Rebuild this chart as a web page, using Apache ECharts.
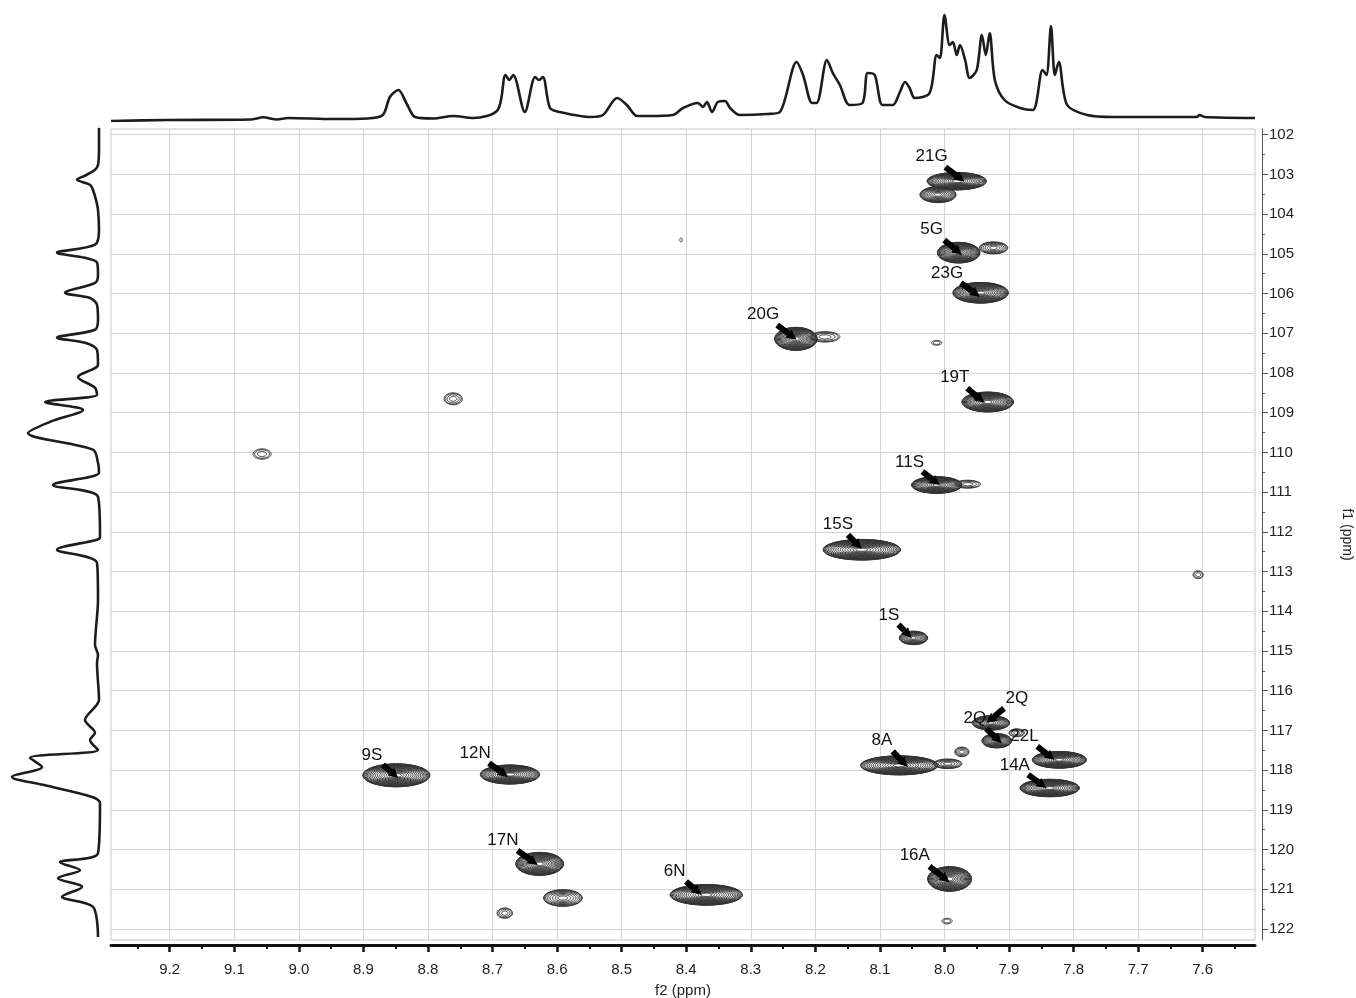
<!DOCTYPE html>
<html>
<head>
<meta charset="utf-8">
<script src="https://cdn.jsdelivr.net/npm/echarts@6/dist/echarts.min.js"></script>
<style>
html, body { margin: 0; padding: 0; background: #fff; }
#main { width: 1356px; height: 998px; }
</style>
</head>
<body>
<div id="main"></div>
<script>
// axis ranges (ppm)
var f2Min = 7.519, f2Max = 9.291;
var f1Min = 101.856, f1Max = 122.277;

// tick labels
var f2Ticks = [9.2, 9.1, 9.0, 8.9, 8.8, 8.7, 8.6, 8.5, 8.4, 8.3, 8.2, 8.1, 8.0, 7.9, 7.8, 7.7, 7.6];
var f1Ticks = [102, 103, 104, 105, 106, 107, 108, 109, 110, 111, 112, 113, 114, 115, 116, 117, 118, 119, 120, 121, 122];

// 1H projection (top trace)
var topF2 = [9.291, 9.204, 9.075, 9.055, 9.034, 9.017, 8.947, 8.894, 8.870, 8.859, 8.846, 8.832, 8.820, 8.792, 8.761, 8.730,
  8.692, 8.680, 8.674, 8.668, 8.650, 8.634, 8.628, 8.622, 8.611, 8.596, 8.549, 8.529, 8.507, 8.492, 8.476, 8.456,
  8.421, 8.405, 8.382, 8.374, 8.368, 8.360, 8.351, 8.340, 8.332, 8.317, 8.275, 8.255, 8.229, 8.219, 8.205, 8.198,
  8.182, 8.173, 8.162, 8.147, 8.127, 8.119, 8.108, 8.096, 8.080, 8.069, 8.061, 8.054, 8.046, 8.023, 8.012, 8.007,
  8.000, 7.992, 7.987, 7.981, 7.976, 7.968, 7.961, 7.950, 7.942, 7.936, 7.930, 7.922, 7.907, 7.883, 7.863, 7.848,
  7.842, 7.835, 7.829, 7.823, 7.810, 7.779, 7.739, 7.609, 7.605, 7.597, 7.519];
var topI = [0, 1, 1.5, 3.7, 1.5, 3, 2, 2.5, 6, 24, 31, 16, 4, 2.5, 5, 3,
  11, 46, 41, 46, 9, 44, 41, 44, 13, 9, 4, 6, 23, 16, 5, 5,
  6, 13, 18, 14, 19, 9, 19, 20, 13, 6, 7, 9, 59, 46, 18, 18,
  61, 48, 36, 16, 18, 48, 46, 16, 16, 29, 39, 33, 23, 28, 66, 63,
  106, 76, 79, 66, 76, 61, 43, 51, 86, 66, 88, 41, 21, 13, 11, 51,
  46, 95, 46, 59, 16, 6, 4, 4, 6, 4, 3];

// 15N projection (left trace)
var leftF1 = [101.82, 102.38, 102.76, 102.88, 103.03, 103.13, 103.26, 103.39, 103.64, 103.89, 104.39, 104.77, 104.97,
  105.10, 105.22, 105.53, 105.73, 105.98, 106.11, 106.28, 106.66, 106.91, 107.11, 107.24, 107.42, 107.79, 108.10,
  108.37, 108.55, 108.73, 108.93, 109.23, 109.51, 109.93, 110.26, 110.51, 110.82, 111.12, 112.13, 112.20, 112.45,
  112.78, 113.71, 114.85, 115.10, 115.30, 116.23, 116.74, 117.06, 117.24, 117.49, 117.69, 117.92, 118.17, 118.37,
  118.68, 118.83, 120.09, 120.32, 120.52, 120.72, 120.94, 121.19, 121.44, 122.20];
var leftI = [1, 1, 2, 5, 15, 23, 10, 7, 4, 2, 1, 5, 43,
  15, 3, 2, 5, 35, 10, 3, 2, 5, 43, 15, 3, 2, 22,
  5, 3, 55, 17, 50, 72, 7, 2, 1, 47, 2, 0, 3, 43,
  3, 2, 5, 2, 3, 1, 15, 5, 10, 2, 70, 58, 88, 57,
  7, 0, 2, 40, 20, 42, 18, 38, 7, 2];

// cross peaks: centre (f2, f1), half widths (ppm) and number of contour levels
var peakF2 = [7.981, 8.010, 7.978, 7.924, 7.944, 8.230, 8.185, 8.012, 7.933, 8.012, 7.964, 8.128, 8.048, 7.928, 7.919,
  7.888, 7.973, 7.822, 7.837, 8.070, 7.995, 8.849, 8.673, 8.627, 8.591, 8.681, 8.369, 7.992, 7.996, 8.408, 8.761, 9.057, 7.607];
var peakF1 = [103.17, 103.51, 104.97, 104.85, 105.98, 107.14, 107.09, 107.24, 108.73, 110.82, 110.80, 112.45, 114.67, 116.81, 117.26,
  117.06, 117.54, 117.74, 118.45, 117.88, 117.84, 118.13, 118.11, 120.36, 121.22, 121.60, 121.14, 120.74, 121.80, 104.65, 108.65, 110.04, 113.08];
var peakW = [0.046, 0.028, 0.033, 0.022, 0.043, 0.033, 0.023, 0.008, 0.040, 0.039, 0.020, 0.060, 0.022, 0.029, 0.023,
  0.012, 0.011, 0.042, 0.046, 0.060, 0.022, 0.052, 0.046, 0.037, 0.030, 0.012, 0.056, 0.034, 0.008, 0.002, 0.014, 0.014, 0.008];
var peakH = [0.22, 0.20, 0.26, 0.15, 0.26, 0.29, 0.13, 0.06, 0.25, 0.21, 0.10, 0.26, 0.17, 0.18, 0.18,
  0.10, 0.12, 0.21, 0.22, 0.24, 0.12, 0.29, 0.24, 0.29, 0.21, 0.13, 0.26, 0.31, 0.07, 0.05, 0.15, 0.13, 0.10];
var peakLevels = [18, 12, 18, 7, 18, 18, 4, 2, 18, 18, 4, 18, 12, 14, 14,
  4, 5, 18, 18, 18, 6, 18, 18, 18, 8, 4, 18, 18, 2, 1, 4, 3, 3];

// assignments: label anchor and arrow tip
var labelText = ['21G', '5G', '23G', '20G', '19T', '11S', '15S', '1S', '2Q', '2Q', '22L', '14A', '8A', '9S', '12N', '17N', '6N', '16A'];
var labelF2 = [8.020, 8.020, 7.996, 8.281, 7.984, 8.054, 8.165, 8.086, 7.888, 7.953, 7.876, 7.891, 8.097, 8.887, 8.727, 8.684, 8.418, 8.046];
var labelF1 = [102.55, 104.39, 105.48, 106.53, 108.12, 110.24, 111.82, 114.09, 116.18, 116.69, 117.16, 117.87, 117.24, 117.62, 117.57, 119.76, 120.56, 120.14];
var tipF2 = [7.969, 7.973, 7.945, 8.229, 7.938, 8.007, 8.128, 8.051, 7.935, 7.911, 7.829, 7.842, 8.057, 8.846, 8.676, 8.630, 8.376, 7.992];
var tipF1 = [103.18, 105.02, 106.08, 107.16, 108.75, 110.82, 112.43, 114.67, 116.81, 117.32, 117.74, 118.45, 117.92, 118.20, 118.17, 120.39, 121.14, 120.82];

var FONT = 'Liberation Sans, Arial, sans-serif';
var f2Minor = f2Ticks.map(function (v) { return +(v + 0.05).toFixed(2); }).concat([7.55]);
var f1Minor = f1Ticks.map(function (v) { return v + 0.5; }).slice(0, -1);

function zip(a, b) { return a.map(function (v, i) { return [v, b[i]]; }); }

function renderPeak(params, api) {
  var c = api.coord([api.value(0), api.value(1)]);
  var sz = api.size([api.value(2), api.value(3)]);
  var rx = Math.abs(sz[0]), ry = Math.abs(sz[1]);
  var n = api.value(4);
  var children = [];
  for (var k = 0; k < n; k++) {
    // levels packed towards the rim, sparser near the centre
    var s = 1 - 0.92 * Math.pow(k / n, 1.5);
    var pts = [];
    for (var j = 0; j < 48; j++) {
      var a = j / 48 * Math.PI * 2;
      pts.push([c[0] + rx * s * Math.cos(a), c[1] + ry * s * Math.sin(a)]);
    }
    children.push({
      type: 'polygon',
      shape: { points: pts },
      style: { fill: 'none', stroke: '#333', lineWidth: 1 }
    });
  }
  return { type: 'group', children: children };
}

function renderLabel(params, api) {
  var p1 = api.coord([api.value(0), api.value(1)]);
  var p2 = api.coord([api.value(2), api.value(3)]);
  var dx = p2[0] - p1[0], dy = p2[1] - p1[1];
  var len = Math.sqrt(dx * dx + dy * dy);
  var ux = dx / len, uy = dy / len;
  var st = [p1[0] + dx * 0.42, p1[1] + dy * 0.42];
  var head = 10, hw = 5;
  var base = [p2[0] - ux * head, p2[1] - uy * head];
  return {
    type: 'group',
    children: [
      {
        type: 'line',
        shape: { x1: st[0], y1: st[1], x2: base[0], y2: base[1] },
        style: { stroke: '#000', lineWidth: 6 }
      },
      {
        type: 'polygon',
        shape: { points: [p2, [base[0] - uy * hw, base[1] + ux * hw], [base[0] + uy * hw, base[1] - ux * hw]] },
        style: { fill: '#000' }
      },
      {
        type: 'text',
        x: p1[0], y: p1[1],
        style: {
          text: labelText[params.dataIndex],
          fill: '#111', font: '17px ' + FONT,
          align: 'center', verticalAlign: 'middle'
        }
      }
    ]
  };
}

var chart = echarts.init(document.getElementById('main'));
var hidden = { show: false };

var option = {
  animation: false,
  backgroundColor: '#fff',
  grid: [
    { left: 111, right: 101, top: 129, bottom: 58, show: true, borderColor: '#c8c8c8', borderWidth: 1, outerBoundsMode: 'none' },
    { left: 111, right: 101, top: 10, height: 111, outerBoundsMode: 'none' },
    { left: 0, width: 100, top: 129, bottom: 58, outerBoundsMode: 'none' }
  ],
  xAxis: [
    {
      gridIndex: 0, type: 'value', min: f2Min, max: f2Max, inverse: true, position: 'bottom', offset: 5,
      axisLine: { lineStyle: { color: '#111', width: 3 } },
      axisTick: { customValues: f2Ticks, length: 7, lineStyle: { color: '#111', width: 2.5 } },
      axisLabel: { customValues: f2Ticks, formatter: function (v) { return v.toFixed(1); }, fontSize: 15, color: '#222', margin: 17, fontFamily: FONT },
      splitLine: { show: true, lineStyle: { color: '#d4d4d4', width: 1 } },
      name: 'f2 (ppm)', nameLocation: 'middle', nameGap: 38,
      nameTextStyle: { fontSize: 15, color: '#222', fontFamily: FONT }
    },
    {
      gridIndex: 0, type: 'value', min: f2Min, max: f2Max, inverse: true, position: 'bottom', offset: 5,
      axisLine: hidden,
      axisTick: { customValues: f2Minor, length: 4, lineStyle: { color: '#111', width: 2 } },
      axisLabel: hidden, splitLine: hidden
    },
    { gridIndex: 1, type: 'value', min: f2Min, max: f2Max, inverse: true, show: false },
    { gridIndex: 2, type: 'value', min: 0, max: 100, inverse: true, show: false }
  ],
  yAxis: [
    {
      gridIndex: 0, type: 'value', min: f1Min, max: f1Max, inverse: true, position: 'right', offset: 7,
      axisLine: { show: true, lineStyle: { color: '#555', width: 1 } },
      axisTick: { customValues: f1Ticks, length: 6, lineStyle: { color: '#555' } },
      axisLabel: { customValues: f1Ticks, fontSize: 15, color: '#222', margin: 7, fontFamily: FONT },
      splitLine: { show: true, lineStyle: { color: '#d4d4d4', width: 1 } },
      name: 'f1 (ppm)', nameLocation: 'middle', nameGap: 78, nameRotate: -90,
      nameTextStyle: { fontSize: 14, color: '#222', fontFamily: FONT }
    },
    {
      gridIndex: 0, type: 'value', min: f1Min, max: f1Max, inverse: true, position: 'right', offset: 7,
      axisLine: hidden,
      axisTick: { customValues: f1Minor, length: 3, lineStyle: { color: '#555' } },
      axisLabel: hidden, splitLine: hidden
    },
    { gridIndex: 1, type: 'value', min: 0, max: 111, show: false },
    { gridIndex: 2, type: 'value', min: f1Min, max: f1Max, inverse: true, show: false }
  ],
  series: [
    {
      type: 'line', xAxisIndex: 2, yAxisIndex: 2, data: zip(topF2, topI),
      symbol: 'none', smooth: 0.3, lineStyle: { color: '#1c1c1c', width: 2.6 }
    },
    {
      type: 'line', xAxisIndex: 3, yAxisIndex: 3, data: zip(leftI, leftF1),
      symbol: 'none', smooth: 0.3, lineStyle: { color: '#1c1c1c', width: 2.6 }
    },
    {
      type: 'custom', xAxisIndex: 0, yAxisIndex: 0, renderItem: renderPeak, silent: true,
      encode: { x: 0, y: 1 },
      data: peakF2.map(function (v, i) { return [v, peakF1[i], peakW[i], peakH[i], peakLevels[i]]; }),
      z: 3
    },
    {
      type: 'custom', xAxisIndex: 0, yAxisIndex: 0, renderItem: renderLabel, silent: true,
      encode: { x: [0, 2], y: [1, 3] },
      data: labelF2.map(function (v, i) { return [v, labelF1[i], tipF2[i], tipF1[i]]; }),
      z: 5
    }
  ]
};

chart.setOption(option);
</script>
</body>
</html>
